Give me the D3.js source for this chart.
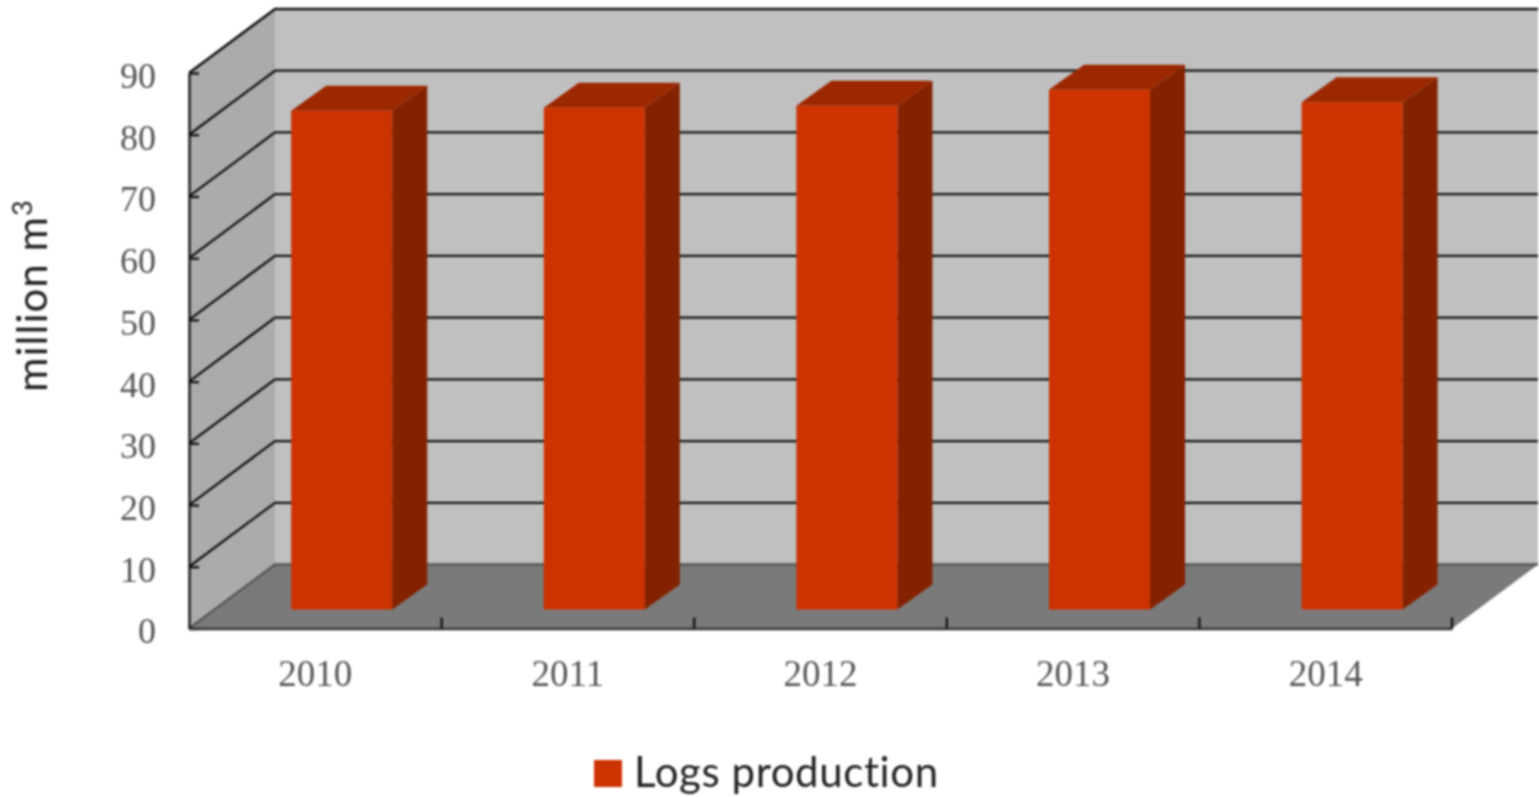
<!DOCTYPE html>
<html><head><meta charset="utf-8">
<script src="https://cdn.jsdelivr.net/npm/d3@7"></script>
<style>html,body{margin:0;padding:0;background:#fff;overflow:hidden}svg{display:block;filter:blur(0.9px)}text{font-variant-ligatures:none}</style>
</head><body><svg id="c" width="1539" height="797"></svg>
<script>
const years = ["2010","2011","2012","2013","2014"];
const logsProduction = [80.8, 81.3, 81.6, 84.2, 82.2];
const yTicks = [0,10,20,30,40,50,60,70,80,90];
const seriesName = "Logs production";
const yTitle = "million m";

const svg = d3.select("#c");
const L=189, R=1452, B=628.5, T=73;
const depthX=86, depthY=64;
const barShiftX=27.6, barShiftY=19, barDepthX=35, barDepthY=25;
const y=d3.scaleLinear().domain([0,90]).range([B,T]);
const x=d3.scaleBand().domain(years).range([L,R]).paddingInner(0).paddingOuter(0);
const poly=(pts,fill)=>svg.append("polygon").attr("points",pts.map(p=>p.join(",")).join(" ")).attr("fill",fill);

poly([[L+depthX,T-depthY],[R+depthX,T-depthY],[R+depthX,B-depthY],[L+depthX,B-depthY]],"#c0c0c0");
poly([[L,T],[L+depthX,T-depthY],[L+depthX,B-depthY],[L,B]],"#ababab");
poly([[L,B],[L+depthX,B-depthY],[R+depthX,B-depthY],[R,B]],"#7a7a7a");

const grid=svg.append("g").attr("fill","none");
yTicks.forEach(t=>{
  const py=y(t);
  grid.append("path")
    .attr("d",d3.line()([[L,py],[L+depthX,py-depthY],[R+depthX,py-depthY]]))
    .attr("stroke",t===0?"#555":"#111").attr("stroke-width",t===90?2.6:2.3);
});

const bw=x.bandwidth()*0.4;
const bars=svg.append("g").selectAll("g").data(years.map((d,i)=>({d,v:logsProduction[i]}))).join("g");
bars.each(function(o){
  const g=d3.select(this);
  const x0=x(o.d)+x.bandwidth()/2-bw/2+barShiftX-1.2, x1=x0+bw, b=B-barShiftY, t=y(o.v)-barShiftY;
  const dx=barDepthX, dy=barDepthY;
  const p=(pts,fill)=>g.append("polygon").attr("points",pts.map(q=>q.join(",")).join(" ")).attr("fill",fill);
  p([[x1,t],[x1+dx,t-dy],[x1+dx,b-dy],[x1,b]],"#842200");
  p([[x0,t],[x0+dx,t-dy],[x1+dx,t-dy],[x1,t]],"#9c2800");
  p([[x0,t],[x1,t],[x1,b],[x0,b]],"#cc3300");
});

const ya=svg.append("g").attr("transform",`translate(${L},0)`)
  .call(d3.axisLeft(y).tickValues(yTicks).tickSizeInner(-10).tickSizeOuter(0).tickPadding(33));
ya.select(".domain").attr("stroke","#111").attr("stroke-width",2.3);
ya.selectAll(".tick line").attr("stroke","#111").attr("stroke-width",2.3);
ya.selectAll("text").attr("font-family","Liberation Serif").attr("font-size",36).attr("fill","#555").attr("dy","0.4em");

const xa=svg.append("g").attr("transform",`translate(0,${B})`)
  .call(d3.axisBottom(x).tickSize(0).tickPadding(31));
xa.select(".domain").attr("stroke","#333").attr("stroke-width",2.3);
xa.selectAll("text").attr("font-family","Liberation Serif").attr("font-size",37).attr("fill","#555").attr("dy","0.71em");
svg.append("g").selectAll("line").data(years).join("line")
  .attr("x1",d=>x(d)+x.bandwidth()).attr("x2",d=>x(d)+x.bandwidth())
  .attr("y1",B-11).attr("y2",B).attr("stroke","#111").attr("stroke-width",2.3);

const title=svg.append("text").attr("transform","translate(47,392) rotate(-90)")
  .attr("font-family","Lato").attr("font-size",42).attr("letter-spacing",1).attr("fill","#222").text(yTitle);
title.append("tspan").text("3").attr("font-size",27).attr("dy",-15);

svg.append("rect").attr("x",594).attr("y",760).attr("width",28).attr("height",27).attr("fill","#cc3300");
svg.append("text").attr("x",634).attr("y",787).attr("font-family","Lato").attr("font-size",42).attr("letter-spacing",0.6).attr("fill","#222").text(seriesName);
</script></body></html>
